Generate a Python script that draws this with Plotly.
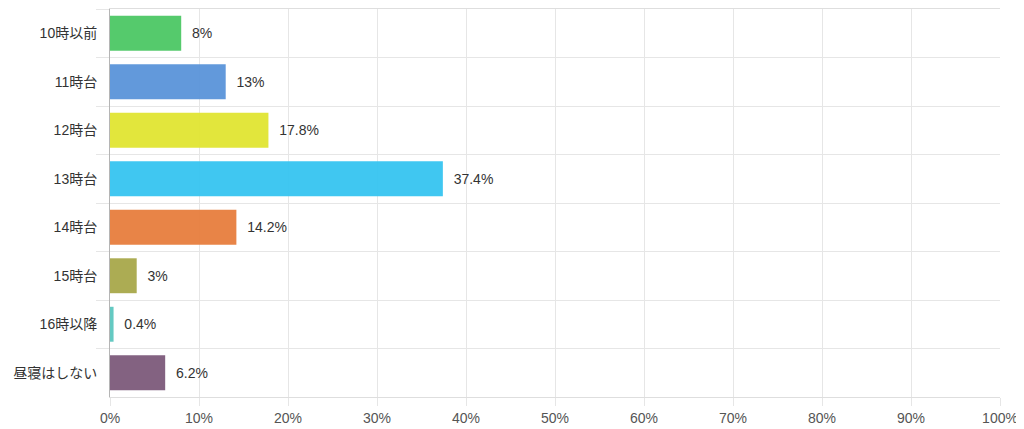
import plotly.graph_objects as go

categories = ["10時以前", "11時台", "12時台", "13時台", "14時台", "15時台", "16時以降", "昼寝はしない"]
values = [8, 13, 17.8, 37.4, 14.2, 3, 0.4, 6.2]
colors = ["#4cc764", "#5a93d9", "#e0e532", "#36c4f0", "#e77d3d", "#a8a84a", "#5cc6bf", "#7c5a7a"]
x_ticks = list(range(0, 101, 10))
x_tick_labels = [f"{v}%" for v in x_ticks]

FONT = "Liberation Sans, Arial, Noto Sans CJK JP, sans-serif"

fig = go.Figure(go.Bar(
    y=categories,
    x=values,
    orientation="h",
    marker=dict(color=colors, opacity=0.95, line=dict(width=0)),
    width=0.72,
    text=["\u00a0\u00a0" + f"{v}%" for v in values],
    textposition="outside",
    textfont=dict(size=14, color="#333333", family=FONT),
    cliponaxis=False,
    hoverinfo="skip",
))

fig.update_layout(
    width=1016,
    height=421,
    margin=dict(l=102, r=24, t=1, b=32),
    paper_bgcolor="white",
    plot_bgcolor="white",
    font=dict(family=FONT, size=14, color="#444444"),
    showlegend=False,
)
fig.update_xaxes(
    range=[0, 100],
    tickvals=x_ticks,
    ticktext=x_tick_labels,
    showgrid=True,
    gridcolor="#e6e6e6",
    gridwidth=1,
    zeroline=False,
    ticks="outside",
    ticklen=8,
    tickcolor="#e6e6e6",
    showline=True,
    mirror=True,
    linecolor="#dedede",
    tickfont=dict(size=14, color="#555555", family=FONT),
    automargin=False,
    fixedrange=True,
)
fig.update_yaxes(
    type="category",
    autorange="reversed",
    tickson="boundaries",
    showgrid=True,
    gridcolor="#e6e6e6",
    ticks="outside",
    ticklen=13,
    tickcolor="#e6e6e6",
    ticklabelstandoff=9,
    showline=True,
    linecolor="#b5b5b5",
    tickfont=dict(size=14, color="#333333", family=FONT),
    automargin=False,
    fixedrange=True,
)

fig.write_html("out.html")
